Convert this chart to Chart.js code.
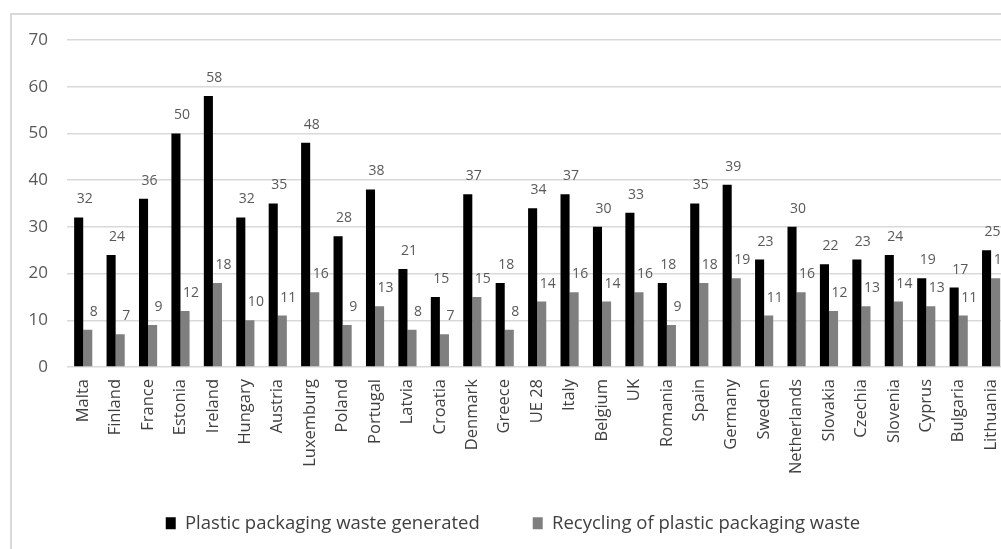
<!DOCTYPE html>
<html>
<head>
<meta charset="utf-8">
<script src="https://cdn.jsdelivr.net/npm/chart.js@4"></script>
<style>
  html, body { margin: 0; padding: 0; background: #fff; overflow: hidden; }
  #wrap { position: absolute; left: 0; top: 0; width: 1015px; height: 549px; }
  #frame { position: absolute; left: 10px; top: 13px; width: 1100px; height: 600px;
           border-left: 2px solid #d9d9d9; border-top: 2px solid #d9d9d9; }
</style>
</head>
<body>
<div id="frame"></div>
<div id="wrap"><canvas id="wasteChart"></canvas></div>
<script>
const countries = ['Malta', 'Finland', 'France', 'Estonia', 'Ireland', 'Hungary', 'Austria', 'Luxemburg',
  'Poland', 'Portugal', 'Latvia', 'Croatia', 'Denmark', 'Greece', 'UE 28', 'Italy', 'Belgium', 'UK',
  'Romania', 'Spain', 'Germany', 'Sweden', 'Netherlands', 'Slovakia', 'Czechia', 'Slovenia', 'Cyprus',
  'Bulgaria', 'Lithuania'];
const wasteGenerated = [32, 24, 36, 50, 58, 32, 35, 48, 28, 38, 21, 15, 37, 18, 34, 37, 30, 33,
  18, 35, 39, 23, 30, 22, 23, 24, 19, 17, 25];
const wasteRecycled = [8, 7, 9, 12, 18, 10, 11, 16, 9, 13, 8, 7, 15, 8, 14, 16, 14, 16,
  9, 18, 19, 11, 16, 12, 13, 14, 13, 11, 19];
const yTicks = [0, 10, 20, 30, 40, 50, 60, 70];

// value labels above every bar
const barLabels = {
  id: 'barLabels',
  afterDatasetsDraw(chart) {
    const ctx = chart.ctx;
    ctx.save();
    ctx.font = '14px "Open Sans", sans-serif';
    ctx.fillStyle = '#595959';
    ctx.textAlign = 'center';
    ctx.textBaseline = 'middle';
    chart.data.datasets.forEach((ds, i) => {
      chart.getDatasetMeta(i).data.forEach((bar, j) => {
        ctx.fillText(ds.data[j], bar.x + 6, bar.y - 18);
      });
    });
    ctx.restore();
  }
};

// keep the x labels' box tall (they get clipped to it) but pull the legend up a bit
const legendNudge = {
  id: 'legendNudge',
  afterLayout(chart) {
    chart.legend.top -= 26;
    chart.legend.left += 8;
    chart.legend.right += 8;
  }
};

new Chart(document.getElementById('wasteChart'), {
  type: 'bar',
  data: {
    labels: countries,
    datasets: [
      {
        label: 'Plastic packaging waste generated',
        data: wasteGenerated,
        backgroundColor: '#000000',
      },
      {
        label: 'Recycling of plastic packaging waste',
        data: wasteRecycled,
        backgroundColor: '#7f7f7f',
      },
    ],
  },
  options: {
    responsive: true,
    maintainAspectRatio: false,
    animation: false,
    layout: { padding: { top: 40, right: 5, bottom: 0, left: 0 } },
    datasets: { bar: { categoryPercentage: 0.56, barPercentage: 1 } },
    scales: {
      x: {
        grid: { display: false },
        border: { display: false },
        ticks: {
          color: '#404040',
          font: { family: '"Open Sans", sans-serif', size: 16.5 },
          minRotation: 90,
          maxRotation: 90,
          autoSkip: false,
          padding: 4,
        },
        afterFit(scale) {
          scale.height = 549 - 367 - scale.chart.legend.height;
        },
      },
      y: {
        min: 0,
        max: 70,
        afterBuildTicks(scale) {
          scale.ticks = yTicks.map(v => ({ value: v }));
        },
        grid: { color: '#d9d9d9', lineWidth: 1.5, drawTicks: false },
        border: { display: false },
        ticks: {
          color: '#595959',
          font: { family: '"Open Sans", sans-serif', size: 17 },
          padding: 19,
        },
        afterFit(scale) {
          scale.width = 67;
        },
      },
    },
    plugins: {
      legend: {
        position: 'bottom',
        maxHeight: 62,
        labels: {
          color: '#404040',
          font: { family: '"Open Sans", sans-serif', size: 18.5 },
          boxWidth: 10,
          boxHeight: 12,
          padding: 53,
        },
      },
      tooltip: { enabled: false },
    },
  },
  plugins: [barLabels, legendNudge],
});
</script>
</body>
</html>
